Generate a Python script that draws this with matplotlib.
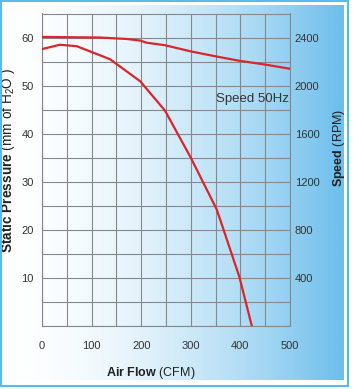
import numpy as np
import matplotlib
matplotlib.use("Agg")
import matplotlib.pyplot as plt
from matplotlib.patches import Rectangle

plt.rcParams["font.family"] = ["Liberation Sans", "DejaVu Sans"]
plt.rcParams["mathtext.fontset"] = "custom"
plt.rcParams["mathtext.rm"] = "Liberation Sans"
plt.rcParams["mathtext.bf"] = "Liberation Sans:bold"
plt.rcParams["mathtext.it"] = "Liberation Sans:italic"

# pressure curve (left axis, mm H2O)
flow_p = [0, 36, 70, 137, 157, 198, 248, 300, 352, 359, 398, 423]
pressure = [57.6, 58.5, 58.2, 55.5, 54.0, 50.9, 44.8, 35.0, 24.3, 22.2, 10.2, 0.0]

# speed curve (right axis, RPM)
flow_s = [0, 117, 171, 198, 211, 248, 302, 352, 399, 453, 500]
speed = [2405, 2400, 2388, 2375, 2357, 2336, 2283, 2242, 2206, 2173, 2140]

x_ticks = [0, 100, 200, 300, 400, 500]
left_ticks = [10, 20, 30, 40, 50, 60]
right_ticks = [400, 800, 1200, 1600, 2000, 2400]

W, H = 353, 389
fig = plt.figure(figsize=(W / 100, H / 100), dpi=100)
fig.patch.set_facecolor("white")

# gradient panel behind the chart
bg = fig.add_axes([3 / W, 1 - 380 / H, 341 / W, 375 / H])
t = np.linspace(0, 1, 256) ** 1.8
c0 = np.array([255, 255, 255]) / 255
c1 = np.array([108, 190, 236]) / 255
grad = c0[None, :] * (1 - t[:, None]) + c1[None, :] * t[:, None]
bg.imshow(grad[None, :, :], aspect="auto", extent=[0, 1, 0, 1])
bg.set_axis_off()
bg.set_zorder(0)

fig.patches.append(Rectangle((1 / W, 1 - 386 / H), 347 / W, 385 / H,
                             transform=fig.transFigure, fill=False,
                             edgecolor="#5bbbe8", linewidth=1.5))

ax = fig.add_axes([42 / W, 1 - 326 / H, 248 / W, 312.5 / H])
ax.set_zorder(1)
ax.patch.set_alpha(0)
ax.set_xlim(0, 500)
ax.set_ylim(0, 65)
ax.set_xticks(np.arange(0, 501, 50))
ax.set_yticks(np.arange(0, 66, 5))
ax.grid(True, color="#84898e", linewidth=0.8)
ax.set_axisbelow(True)
for s in ax.spines.values():
    s.set_color("#84898e")
    s.set_linewidth(0.8)

ax.set_xticklabels([str(v) if v in x_ticks else "" for v in range(0, 501, 50)])
ax.set_yticklabels([str(v) if v in left_ticks else "" for v in range(0, 66, 5)])
ax.tick_params(axis="x", length=0, pad=11, labelsize=8, labelcolor="#333333")
ax.tick_params(axis="y", length=0, pad=6, labelsize=8, labelcolor="#333333")

ax.plot(flow_p, pressure, color="#d9262b", linewidth=1.6, zorder=3)

ax2 = ax.twinx()
ax2.set_ylim(0, 2600)
ax2.set_yticks(right_ticks)
ax2.tick_params(axis="y", length=0, pad=3.5, labelsize=8, labelcolor="#333333")
for s in ax2.spines.values():
    s.set_visible(False)
ax2.plot(flow_s, speed, color="#d9262b", linewidth=1.6, zorder=3)

ax.set_xlabel(r"$\mathbf{Air\ Flow}$ (CFM)", fontsize=9, color="#222222")
ax.xaxis.set_label_coords((151 - 42) / 248, -(365 - 326) / 312.5)
ax.set_ylabel(r"$\mathbf{Static\ Pressure}$ (mm of H$_2$O )", fontsize=9.8, color="#222222")
ax.yaxis.set_label_coords(-(42 - 17) / 248, (326 - 160) / 312.5)
ax2.set_ylabel(r"$\mathbf{Speed}$ (RPM)", fontsize=9, color="#222222")
ax2.yaxis.set_label_coords((331 - 42) / 248, (326 - 148) / 312.5)

ax.text(0.995, (326 - 99) / 312.5, "Speed 50Hz", transform=ax.transAxes,
        ha="right", va="center", fontsize=9.5, color="#333333")

fig.savefig("out.png", dpi=100)
